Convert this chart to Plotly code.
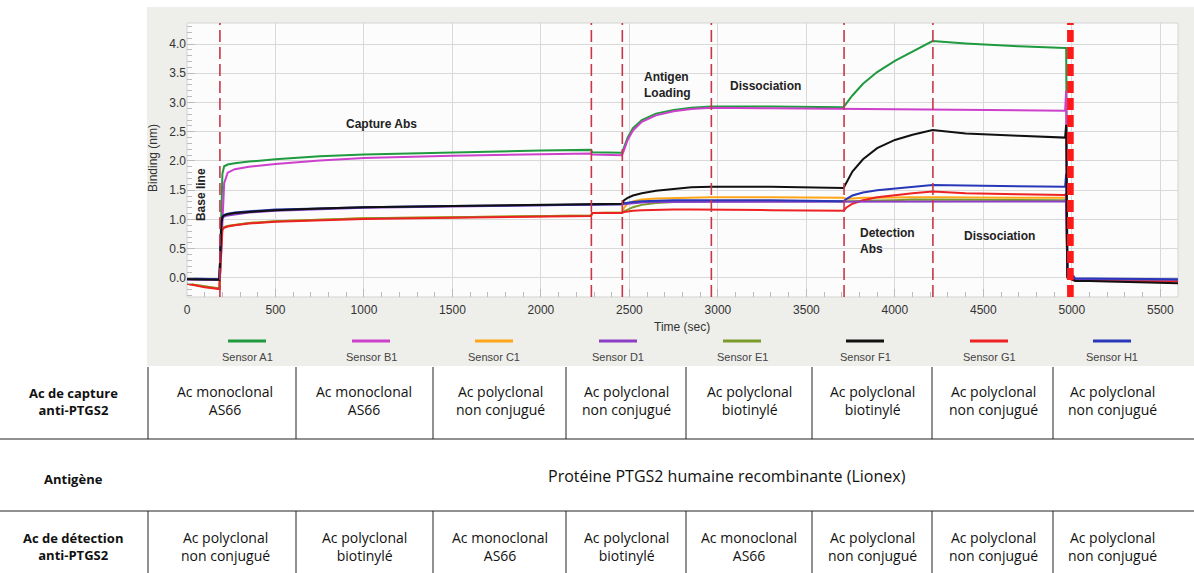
import plotly.graph_objects as go

# ---------------- data ----------------
time_s = [0, 100, 183, 188, 194, 200, 210, 230, 270, 350, 500, 750, 1000, 1500, 2000,
          2283, 2290, 2458, 2470, 2490, 2520, 2570, 2650, 2750, 2850, 2963, 3300, 3710,
          3725, 3760, 3820, 3900, 4000, 4100, 4213, 4400, 4700, 4962, 4968, 4975, 5008,
          5020, 5100, 5300, 5600]

sensor_a1 = [-0.02, -0.02, -0.03, 0.40, 1.30, 1.78, 1.91, 1.94, 1.96, 1.99, 2.03, 2.08, 2.11, 2.15, 2.18,
             2.19, 2.15, 2.14, 2.24, 2.40, 2.56, 2.70, 2.81, 2.87, 2.91, 2.93, 2.93, 2.92,
             2.98, 3.12, 3.32, 3.52, 3.71, 3.87, 4.05, 4.01, 3.96, 3.93, 3.93, 0.05, 0.00,
             -0.03, -0.03, -0.04, -0.05]
sensor_b1 = [-0.02, -0.02, -0.03, 0.10, 0.55, 1.15, 1.62, 1.80, 1.86, 1.90, 1.95, 2.01, 2.05, 2.09, 2.12,
             2.13, 2.11, 2.10, 2.19, 2.36, 2.52, 2.67, 2.78, 2.85, 2.89, 2.91, 2.90, 2.89,
             2.89, 2.89, 2.88, 2.88, 2.88, 2.88, 2.88, 2.87, 2.87, 2.86, 3.20, 0.05, 0.00,
             -0.03, -0.03, -0.04, -0.05]
sensor_c1 = [-0.10, -0.15, -0.18, 0.20, 0.70, 0.84, 0.87, 0.89, 0.91, 0.94, 0.97, 1.00, 1.02, 1.04, 1.06,
             1.07, 1.11, 1.12, 1.20, 1.27, 1.31, 1.34, 1.36, 1.37, 1.38, 1.38, 1.38, 1.37,
             1.35, 1.36, 1.37, 1.37, 1.38, 1.38, 1.38, 1.38, 1.37, 1.37, 1.40, 0.02, -0.02,
             -0.03, -0.03, -0.04, -0.04]
sensor_d1 = [-0.02, -0.02, -0.03, 0.35, 0.90, 1.02, 1.05, 1.07, 1.09, 1.12, 1.15, 1.18, 1.20, 1.22, 1.24,
             1.25, 1.25, 1.25, 1.26, 1.27, 1.28, 1.29, 1.30, 1.30, 1.31, 1.31, 1.31, 1.30,
             1.30, 1.30, 1.30, 1.30, 1.30, 1.30, 1.31, 1.31, 1.31, 1.31, 1.35, 0.03, -0.01,
             -0.02, -0.02, -0.02, -0.03]
sensor_e1 = [-0.10, -0.15, -0.18, 0.20, 0.70, 0.84, 0.87, 0.89, 0.91, 0.94, 0.97, 1.00, 1.02, 1.04, 1.06,
             1.07, 1.11, 1.12, 1.14, 1.17, 1.21, 1.25, 1.28, 1.30, 1.31, 1.31, 1.31, 1.30,
             1.30, 1.31, 1.32, 1.33, 1.33, 1.34, 1.34, 1.34, 1.33, 1.33, 1.36, 0.02, -0.02,
             -0.03, -0.03, -0.04, -0.04]
sensor_f1 = [-0.02, -0.02, -0.03, 0.38, 0.93, 1.04, 1.07, 1.09, 1.11, 1.13, 1.16, 1.19, 1.21, 1.23, 1.25,
             1.26, 1.26, 1.27, 1.33, 1.37, 1.41, 1.45, 1.49, 1.52, 1.55, 1.56, 1.56, 1.54,
             1.62, 1.82, 2.03, 2.22, 2.36, 2.45, 2.53, 2.47, 2.43, 2.40, 2.62, 0.02, -0.03,
             -0.05, -0.05, -0.07, -0.09]
sensor_g1 = [-0.10, -0.16, -0.19, 0.15, 0.65, 0.82, 0.86, 0.88, 0.90, 0.93, 0.96, 0.99, 1.01, 1.03, 1.05,
             1.06, 1.11, 1.11, 1.13, 1.14, 1.15, 1.16, 1.17, 1.17, 1.17, 1.17, 1.16, 1.15,
             1.20, 1.27, 1.33, 1.38, 1.42, 1.45, 1.48, 1.45, 1.43, 1.42, 1.45, 0.00, -0.04,
             -0.05, -0.05, -0.05, -0.06]
sensor_h1 = [-0.01, -0.01, -0.02, 0.40, 0.95, 1.05, 1.08, 1.10, 1.12, 1.14, 1.17, 1.19, 1.21, 1.23, 1.25,
             1.26, 1.26, 1.26, 1.28, 1.29, 1.30, 1.31, 1.32, 1.33, 1.33, 1.33, 1.33, 1.31,
             1.35, 1.41, 1.46, 1.50, 1.53, 1.56, 1.59, 1.58, 1.57, 1.56, 1.78, 0.05, 0.04,
             -0.01, -0.01, -0.01, -0.02]

sensor_names = ["Sensor A1", "Sensor B1", "Sensor C1", "Sensor D1",
                "Sensor E1", "Sensor F1", "Sensor G1", "Sensor H1"]
sensor_colors = ["#1f9a3e", "#cc40cc", "#ffa61a", "#8b3fc6",
                 "#7a9a2a", "#111111", "#ee2222", "#2838b8"]

phase_times = [186, 2285, 2460, 2963, 3713, 4215]
end_times = [4980, 4988, 4996, 5004]

x_ticks = [0, 500, 1000, 1500, 2000, 2500, 3000, 3500, 4000, 4500, 5000, 5500]
y_ticks = [0.0, 0.5, 1.0, 1.5, 2.0, 2.5, 3.0, 3.5, 4.0]

row_headers = ["Ac de capture<br>anti-PTGS2", "Antigène", "Ac de détection<br>anti-PTGS2"]
capture_abs = ["Ac monoclonal<br>AS66", "Ac monoclonal<br>AS66", "Ac polyclonal<br>non conjugué",
               "Ac polyclonal<br>non conjugué", "Ac polyclonal<br>biotinylé", "Ac polyclonal<br>biotinylé",
               "Ac polyclonal<br>non conjugué", "Ac polyclonal<br>non conjugué"]
antigen_text = "Protéine PTGS2 humaine recombinante (Lionex)"
detection_abs = ["Ac polyclonal<br>non conjugué", "Ac polyclonal<br>biotinylé", "Ac monoclonal<br>AS66",
                 "Ac polyclonal<br>biotinylé", "Ac monoclonal<br>AS66", "Ac polyclonal<br>non conjugué",
                 "Ac polyclonal<br>non conjugué", "Ac polyclonal<br>non conjugué"]

series = [sensor_a1, sensor_b1, sensor_c1, sensor_d1, sensor_e1, sensor_f1, sensor_g1, sensor_h1]

# ---------------- layout geometry (pixels) ----------------
W, H = 1194, 573
L, R, T, B = 187, 1178, 23, 297
PW, PH = R - L, B - T


def px(xp):
    return (xp - L) / PW


def py(yp):
    return (B - yp) / PH


fig = go.Figure()
draw_order = [0, 1, 2, 4, 6, 3, 7, 5]
for i in draw_order:
    fig.add_trace(go.Scatter(x=time_s, y=series[i], mode="lines", name=sensor_names[i],
                             line=dict(color=sensor_colors[i], width=2), showlegend=False))

shapes = []
shapes.append(dict(type="rect", xref="paper", yref="paper", x0=px(147), x1=px(1194), y0=py(366), y1=py(7),
                   fillcolor="#eeeeea", line=dict(width=0), layer="below"))
shapes.append(dict(type="rect", xref="paper", yref="paper", x0=0, x1=1, y0=0, y1=1,
                   fillcolor="#fcfcfc", line=dict(color="#d4d4d4", width=1), layer="below"))

for t in phase_times:
    shapes.append(dict(type="line", xref="x", yref="paper", x0=t, x1=t, y0=0, y1=1,
                       line=dict(color="#c8364a", width=1.6, dash="12px,5px")))
for t in end_times:
    shapes.append(dict(type="line", xref="x", yref="paper", x0=t, x1=t, y0=0, y1=1,
                       line=dict(color="#ff1a1a", width=2.4, dash="12px,5px")))

annotations = []


def ann(x, y, text, font, xref="paper", yref="paper", **kw):
    d = dict(x=x, y=y, xref=xref, yref=yref, text=text, showarrow=False, font=font,
             xanchor="center", yanchor="middle")
    d.update(kw)
    annotations.append(d)


lab_font = dict(family="Arial", size=12, color="#222")
ann(80, 1.42, "<b>Base line</b>", lab_font, "x", "y", textangle=-90)
ann(1100, 2.63, "<b>Capture Abs</b>", lab_font, "x", "y")
ann(2570, 3.30, "<b>Antigen<br>Loading</b>", lab_font, "x", "y", xanchor="left", align="left")
ann(3268, 3.28, "<b>Dissociation</b>", lab_font, "x", "y")
ann(3790, 0.64, "<b>Detection<br>Abs</b>", lab_font, "x", "y", xanchor="left", align="left")
ann(4594, 0.72, "<b>Dissociation</b>", lab_font, "x", "y")

axis_font = dict(family="Arial", size=12, color="#333")
ann(px(153), py(158), "Binding (nm)", axis_font, textangle=-90)
ann(px(682), py(327), "Time (sec)", axis_font)

legend_centers = [247, 371, 494, 618, 742, 865, 989, 1112]
for cx, name, col in zip(legend_centers, sensor_names, sensor_colors):
    shapes.append(dict(type="line", xref="paper", yref="paper", x0=px(cx - 19), x1=px(cx + 19),
                       y0=py(341), y1=py(341), line=dict(color=col, width=3)))
    ann(px(cx), py(357), name, dict(family="Arial", size=11, color="#444"))

tbl_line = dict(color="#222", width=1)
for yl in [439, 511]:
    shapes.append(dict(type="line", xref="paper", yref="paper", x0=px(0), x1=px(1194),
                       y0=py(yl), y1=py(yl), line=tbl_line))
col_bounds = [148, 296, 433, 566, 686, 812, 932, 1053]
for xb in col_bounds:
    shapes.append(dict(type="line", xref="paper", yref="paper", x0=px(xb), x1=px(xb),
                       y0=py(367), y1=py(439), line=tbl_line))
    shapes.append(dict(type="line", xref="paper", yref="paper", x0=px(xb), x1=px(xb),
                       y0=py(511), y1=py(576), line=tbl_line))

tfont = dict(family="Open Sans", size=14, color="#111")
hfont = dict(family="Open Sans", size=13, color="#111")
ann(px(73), py(401), "<b>" + row_headers[0] + "</b>", hfont)
ann(px(73), py(479), "<b>" + row_headers[1] + "</b>", hfont)
ann(px(73), py(546), "<b>" + row_headers[2] + "</b>", hfont)
cell_centers = [225, 364, 500, 626, 749, 872, 993, 1112]
for cx, ctext, dtext in zip(cell_centers, capture_abs, detection_abs):
    ann(px(cx), py(400), ctext, tfont)
    ann(px(cx), py(546), dtext, tfont)
ann(px(727), py(476), antigen_text, dict(family="Open Sans", size=16, color="#111"))

fig.update_layout(
    width=W, height=H, autosize=False,
    margin=dict(l=L, r=W - R, t=T, b=H - B),
    paper_bgcolor="white", plot_bgcolor="rgba(0,0,0,0)",
    shapes=shapes, annotations=annotations, showlegend=False,
    xaxis=dict(range=[0, 5600], tickvals=x_ticks, showgrid=True, gridcolor="#d9d9d9", gridwidth=1,
               zeroline=False, ticks="inside", ticklen=8, tickcolor="#bbb",
               minor=dict(dtick=100, ticks="inside", ticklen=5, tickcolor="#bbb", showgrid=False),
               tickfont=dict(family="Arial", size=12, color="#333"), ticklabelstandoff=4,
               showline=False),
    yaxis=dict(range=[-0.325, 4.359], tickvals=y_ticks, ticktext=[f"{v:.1f}" for v in y_ticks],
               showgrid=True, gridcolor="#d9d9d9", gridwidth=1, zeroline=False,
               ticks="inside", ticklen=8, tickcolor="#bbb",
               minor=dict(dtick=0.1, ticks="inside", ticklen=5, tickcolor="#bbb", showgrid=False),
               tickfont=dict(family="Arial", size=12, color="#333"), showline=False),
)

fig.write_html("out.html", config={"displayModeBar": False},
               post_script="document.body.style.margin='0';document.body.style.overflow='hidden';")
